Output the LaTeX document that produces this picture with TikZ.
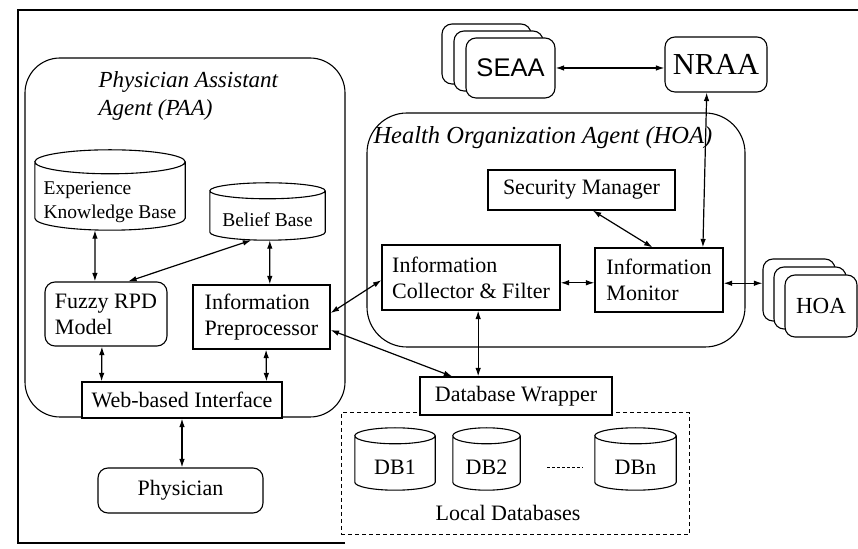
\documentclass[tikz,border=0pt]{standalone}
\usepackage{fontspec}
\setmainfont{Liberation Serif}
\newfontfamily\arialface{Liberation Sans}
\usetikzlibrary{arrows.meta,calc}

% outline of a database drum around a named node: the node is its front face
\newcommand\drumoutline[2]{%
  \draw[line width=1.1pt] let \p1=($(#1.east)-(#1.west)$) in
    ($(#1.north west)+(0pt,#2)$) -- ($(#1.south west)+(0pt,#2)$)
    arc[start angle=180, end angle=360, x radius=0.5*\x1, y radius=#2]
    -- ($(#1.north east)+(0pt,#2)$)
    ($(#1.north)+(0pt,#2)$) ellipse[x radius=0.5*\x1, y radius=#2];}

\tikzset{
  txt/.style={font=\fontsize{22}{26}\selectfont},
  smalltxt/.style={font=\fontsize{19.5}{24}\selectfont},
  plainbox/.style={txt, draw, line width=1.1pt, fill=white, inner sep=0pt, align=center},
  leftbox/.style={txt, draw, line width=1.1pt, fill=white, inner sep=0pt, align=left},
  roundbox/.style={plainbox, rounded corners=10pt},
  region/.style={draw, line width=1.1pt, rounded corners=#1, inner sep=0pt},
  drum/.style={inner sep=0pt, align=center},
  card/.style={draw, line width=1.1pt, fill=white, rounded corners=10pt, inner sep=0pt},
  link/.style={line width=1.2pt, {Latex[length=8.5pt,width=5.5pt]}-{Latex[length=8.5pt,width=5.5pt]}},
}

\begin{document}
\begin{tikzpicture}[x=1pt, y=1pt]
\useasboundingbox (0,0) rectangle (858,548);

% page frame
\draw[line width=1.3pt] (345,5) -- (18,5) -- (18,538) -- (858,538);

% agent regions
\node[region=35pt, minimum width=320pt, minimum height=359pt] (paa) at (185,310.5) {};
\node[anchor=west, align=left, font=\itshape\fontsize{23}{28}\selectfont] (paalabel) at (95,452)
  {Physician Assistant\\Agent (PAA)};
\node[region=40pt, minimum width=378pt, minimum height=234pt] (hoa) at (556,318) {};
\node[anchor=west, font=\itshape\fontsize{24.5}{28}\selectfont] (hoalabel) at (370,410)
  {Health Organization Agent (HOA)};

% local databases group
\node[draw, line width=1pt, dash pattern=on 4pt off 3pt, minimum width=348pt, minimum height=122pt] (localdb) at (515,74) {};
\node[txt] (ldlabel) at (508,35) {Local Databases};

% knowledge stores
\node[drum, smalltxt, align=left, minimum width=150pt, minimum height=56pt] (ekb) at (110,346)
  {Experience\\Knowledge Base};
\drumoutline{ekb}{12pt}
\node[drum, smalltxt, minimum width=115pt, minimum height=41pt] (belief) at (267.5,328.5) {Belief Base};
\drumoutline{belief}{8pt}

% PAA components
\node[leftbox, minimum width=122pt, minimum height=64pt, rounded corners=10pt] (fuzzy) at (106,234) {Fuzzy RPD\\Model};
\node[leftbox, minimum width=137pt, minimum height=64pt] (pre) at (261.5,231) {Information\\Preprocessor};
\node[plainbox, minimum width=200pt, minimum height=36pt] (web) at (182,148) {Web-based Interface};
\node[roundbox, minimum width=165pt, minimum height=45pt] (phys) at (180.5,57.5) {Physician};

% HOA components
\node[plainbox, minimum width=187pt, minimum height=40pt] (sec) at (581.5,358) {Security Manager};
\node[leftbox, minimum width=178pt, minimum height=65pt] (col) at (471,270.5) {Information\\Collector \& Filter};
\node[leftbox, minimum width=128pt, minimum height=64pt] (mon) at (659,268) {Information\\Monitor};
\node[plainbox, minimum width=192pt, minimum height=38pt] (dbw) at (516,152) {Database Wrapper};

% databases
\node[drum, txt, minimum width=80pt, minimum height=46pt] (db1) at (395,81) {DB1};
\drumoutline{db1}{8pt}
\node[drum, txt, minimum width=67pt, minimum height=46pt] (db2) at (486.5,81) {DB2};
\drumoutline{db2}{8pt}
\node[drum, txt, minimum width=81pt, minimum height=46pt] (dbn) at (635.5,81) {DBn};
\drumoutline{dbn}{8pt}
\draw[line width=0.7pt, dash pattern=on 3pt off 2pt, shorten <=27pt, shorten >=12pt] (db2.east) -- (dbn.west);

% external agents
\node[card, minimum width=89pt, minimum height=60pt] (seaaC) at (486.5,494) {};
\node[card, minimum width=89pt, minimum height=60pt] (seaaB) at (498.5,487) {};
\node[card, minimum width=89pt, minimum height=60pt, font=\arialface\fontsize{25.5}{28}\selectfont] (seaaA) at (510.5,480) {SEAA};
\node[card, minimum width=102pt, minimum height=55pt, font=\fontsize{30.5}{32}\selectfont] (nraa) at (716,483.5) {NRAA};
\node[card, minimum width=72pt, minimum height=62pt] (hoaC) at (799,258) {};
\node[card, minimum width=72pt, minimum height=62pt] (hoaB) at (810,250) {};
\node[card, minimum width=72pt, minimum height=62pt, font=\fontsize{23}{26}\selectfont] (hoaA) at (821,242) {HOA};

% connectors
\draw[link] ($(ekb.south west)!0.4!(ekb.south east)$) -- ($(fuzzy.north west)!0.41!(fuzzy.north east)$);
\draw[link] ($(belief.south west)!0.36!(belief.south east)$) -- ($(fuzzy.north west)!0.68!(fuzzy.north east)$);
\draw[link] ($(belief.south west)!0.52!(belief.south east)$) -- ($(pre.north west)!0.56!(pre.north east)$);
\draw[link] ($(fuzzy.south west)!0.467!(fuzzy.south east)$) -- ($(web.north west)!0.1!(web.north east)$);
\draw[link] ($(pre.south west)!0.533!(pre.south east)$) -- ($(web.north west)!0.92!(web.north east)$);
\draw[link] (web.south) -- (web.south |- phys.north);
\draw[link] ($(pre.north east)!0.44!(pre.south east)$) -- ($(col.north west)!0.54!(col.south west)$);
\draw[link] ($(pre.north east)!0.70!(pre.south east)$) -- ($(dbw.north west)!0.17!(dbw.north east)$);
\draw[link] ($(col.south west)!0.54!(col.south east)$) coordinate (colfoot) -- (colfoot |- dbw.north);
\draw[link] ($(col.north east)!0.58!(col.south east)$) coordinate (colside) -- (colside -| mon.west);
\draw[link] ($(mon.north east)!0.55!(mon.south east)$) coordinate (monside) -- (monside -| hoaC.west);
\draw[link] ($(sec.south west)!0.56!(sec.south east)$) -- ($(mon.north west)!0.45!(mon.north east)$);
\draw[link] ($(nraa.south west)!0.41!(nraa.south east)$) -- ($(mon.north west)!0.84!(mon.north east)$);
\draw[link] (seaaA.east) -- (seaaA.east -| nraa.west);
\end{tikzpicture}
\end{document}
